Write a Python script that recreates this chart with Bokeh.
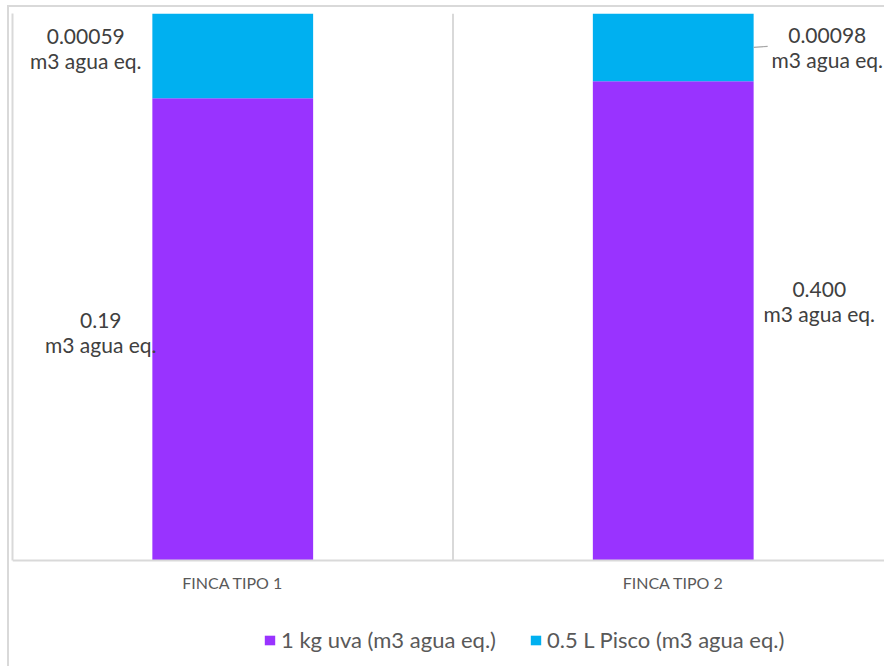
from bokeh.plotting import figure
from bokeh.models import ColumnDataSource, Range1d, FixedTicker, Legend, LegendItem
from bokeh.core.properties import value
from bokeh.embed import file_html
from bokeh.resources import INLINE

# Categories and the stacked shares of each column (fraction of the column height)
categories = ["FINCA TIPO 1", "FINCA TIPO 2"]
uva_share = [0.845, 0.876]
pisco_share = [0.155, 0.124]

# Footprint values shown in the data labels
uva_labels = ["0.19", "0.400"]
pisco_labels = ["0.00059", "0.00098"]
unit = "m3 agua eq."

series_names = ["1 kg uva (m3 agua eq.)", "0.5 L Pisco (m3 agua eq.)"]
colors = ["#9933FF", "#00B0F0"]

FONT = "Lato"
GRID = "#D9D9D9"
xpos = list(range(len(categories)))
bar_w = 0.365

uva_top = uva_share
pisco_bottom = uva_share
pisco_top = [u + s for u, s in zip(uva_share, pisco_share)]
uva_mid = [t / 2 for t in uva_top]
pisco_mid = [(b + t) / 2 for b, t in zip(pisco_bottom, pisco_top)]

src = ColumnDataSource(dict(x=xpos, uva_top=uva_top,
                            pisco_bottom=pisco_bottom, pisco_top=pisco_top))

# Chart border along the top and left edges, drawn behind a transparent canvas
border_css = (f"linear-gradient({GRID},{GRID}) 7px 5px / 877px 2px no-repeat, "
              f"linear-gradient({GRID},{GRID}) 7px 5px / 2px 661px no-repeat, white")

# The frame runs to the bottom of the canvas; the space under y=0 holds the
# category labels and the legend.
p = figure(width=884, height=666, output_backend="svg", toolbar_location=None,
           x_range=Range1d(-0.5, 1.4796), y_range=Range1d(-0.1938, 1),
           min_border_left=12, min_border_top=13, min_border_right=0,
           min_border_bottom=0, outline_line_color=None,
           background_fill_alpha=0, border_fill_alpha=0,
           styles={"background": border_css})

# Separators between neighbouring categories, spanning the value range
seps = [(a + b) / 2 for a, b in zip(xpos[:-1], xpos[1:])]
p.segment(x0=seps, y0=[0] * len(seps), x1=seps, y1=[1] * len(seps),
          line_color=GRID, line_width=2)

uva_r = p.vbar(x="x", width=bar_w, bottom=0, top="uva_top", source=src,
               fill_color=colors[0], line_color=None)
pisco_r = p.vbar(x="x", width=bar_w, bottom="pisco_bottom", top="pisco_top", source=src,
                 fill_color=colors[1], line_color=None)

# Left edge of the plot area: a bare axis line over the value range
yax = p.yaxis[0]
yax.ticker = FixedTicker(ticks=[])
yax.bounds = (0, 1)
yax.axis_line_color = GRID
yax.axis_line_width = 2
yax.major_tick_out = 0
yax.minor_tick_out = 0
yax.major_tick_in = 0
yax.minor_tick_in = 0
p.ygrid.visible = False
p.xgrid.visible = False

# Category axis pinned at y=0
ax = p.xaxis[0]
ax.fixed_location = 0
ax.ticker = FixedTicker(ticks=xpos)
ax.major_label_overrides = {i: c for i, c in zip(xpos, categories)}
ax.major_tick_line_color = None
ax.minor_tick_line_color = None
ax.major_tick_out = 0
ax.minor_tick_out = 0
ax.axis_line_color = GRID
ax.axis_line_width = 2
ax.major_label_standoff = 13
ax.major_label_text_font = FONT
ax.major_label_text_font_size = "16px"
ax.major_label_text_color = "#595959"

# Data labels beside the bars
label_style = dict(text_font=value(FONT), text_font_size="21px", text_color="#404040",
                   text_align="center", text_baseline="middle", text_line_height=1.0)
p.text(x="x", y="y", text="t", x_offset="dx", y_offset="dy", source=ColumnDataSource(dict(
    x=xpos, y=pisco_mid, t=[f"{v}\n{unit}" for v in pisco_labels],
    dx=[-147, 154], dy=[-8, 0])), **label_style)
p.text(x="x", y="y", text="t", x_offset="dx", y_offset="dy", source=ColumnDataSource(dict(
    x=xpos, y=uva_mid, t=[f"{v}\n{unit}" for v in uva_labels],
    dx=[-132, 146], dy=[3, -20])), **label_style)

# Short leader line from the second blue segment to its label
lead = 14 / 440.5
p.segment(x0=[xpos[1] + bar_w / 2], y0=[pisco_mid[1]],
          x1=[xpos[1] + bar_w / 2 + lead], y1=[pisco_mid[1] + 0.002],
          line_color="#A6A6A6", line_width=1.2)

# Legend underneath the category labels
legend = Legend(items=[LegendItem(label=series_names[0], renderers=[uva_r]),
                       LegendItem(label=series_names[1], renderers=[pisco_r])],
                orientation="horizontal", location=(251, 13),
                glyph_width=13, glyph_height=12, label_standoff=5, spacing=33,
                padding=0, margin=0, border_line_color=None, background_fill_alpha=0,
                label_text_font=FONT, label_text_font_size="22px",
                label_text_color="#595959")
p.add_layout(legend, "center")

open("out.html", "w").write(file_html(p, INLINE))
